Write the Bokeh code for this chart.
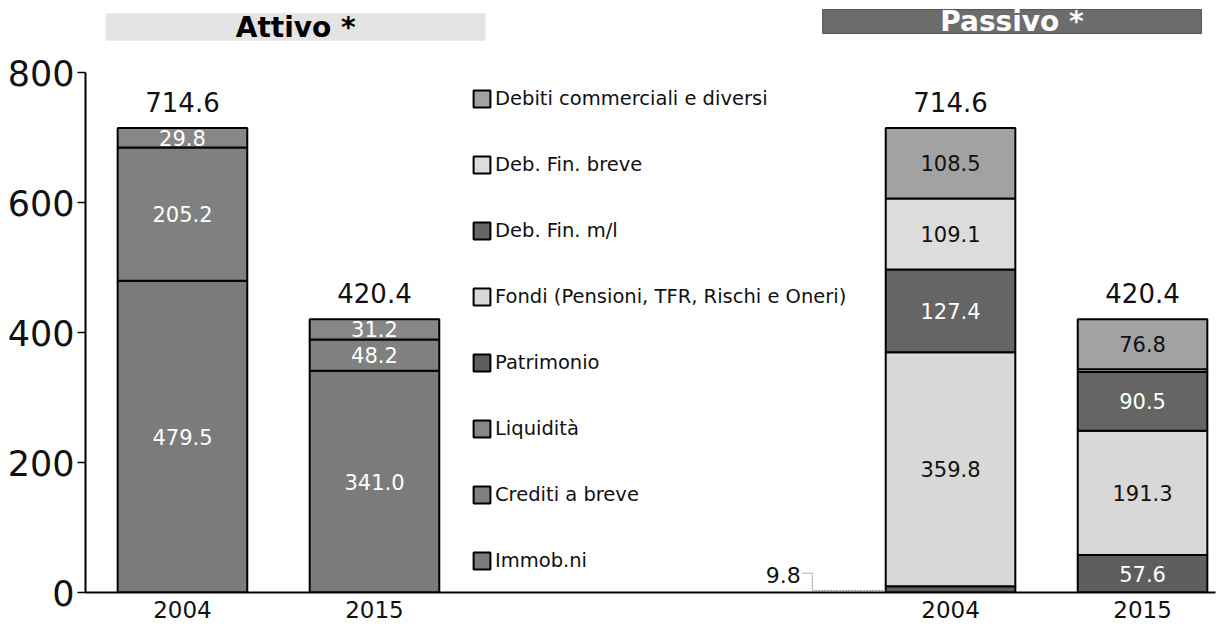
from bokeh.plotting import figure
from bokeh.models import (ColumnDataSource, Range1d, FixedTicker, Legend, LegendItem)
from bokeh.core.properties import value
from bokeh.embed import file_html
from bokeh.resources import INLINE

# ---------------- data ----------------
years = ["2004", "2015"]
attivo_series = ["Immob.ni", "Crediti a breve", "Liquidità"]
immob = [479.5, 341.0]
crediti = [205.2, 48.2]
liquidita = [29.8, 31.2]
attivo_totals = [714.6, 420.4]

passivo_series = ["Patrimonio", "Fondi (Pensioni, TFR, Rischi e Oneri)",
                  "Deb. Fin. m/l", "Deb. Fin. breve", "Debiti commerciali e diversi"]
patrimonio = [9.8, 57.6]
fondi = [359.8, 191.3]
deb_fin_ml = [127.4, 90.5]
deb_fin_breve = [109.1, 4.2]
debiti_comm = [108.5, 76.8]
passivo_totals = [714.6, 420.4]

# ---------------- styles ----------------
FONT = "DejaVu Sans"
attivo_colors = ["#7b7b7b", "#808080", "#878787"]
attivo_text = ["white", "white", "white"]
passivo_colors = ["#5e5e5e", "#d8d8d8", "#656565", "#dcdcdc", "#a2a2a2"]
passivo_text = ["white", "#111111", "white", "#111111", "#111111"]

x_att = [0, 1]
x_pas = [4, 5]
BW = 0.675

p = figure(width=1226, height=627, output_backend="svg", toolbar_location=None,
           x_range=Range1d(-0.505, 5.38), y_range=Range1d(0, 898.5),
           min_border_left=85, min_border_right=11, min_border_top=8, min_border_bottom=35)
p.xgrid.visible = False
p.ygrid.visible = False
p.outline_line_color = None
p.background_fill_color = "white"

# stacked bars
def draw_stack(xs, names, data_lists, colors, text_colors, hide):
    src = ColumnDataSource(dict(x=xs, **{n: d for n, d in zip(names, data_lists)}))
    rends = p.vbar_stack(names, x="x", width=BW, source=src, color=colors,
                         line_color="black", line_width=2)
    lx, ly, lt, lc = [], [], [], []
    bottoms = [0.0] * len(xs)
    for n, d, tc in zip(names, data_lists, text_colors):
        for i, v in enumerate(d):
            if (n, i) not in hide:
                lx.append(xs[i]); ly.append(bottoms[i] + v / 2)
                lt.append(f"{v:.1f}"); lc.append(tc)
            bottoms[i] += v
    p.text(x=lx, y=ly, text=lt, text_color=lc, text_align="center",
           text_baseline="middle", text_font=value(FONT), text_font_size="21px")
    return rends

att_r = draw_stack(x_att, attivo_series, [immob, crediti, liquidita],
                   attivo_colors, attivo_text, set())
pas_r = draw_stack(x_pas, passivo_series,
                   [patrimonio, fondi, deb_fin_ml, deb_fin_breve, debiti_comm],
                   passivo_colors, passivo_text,
                   {("Patrimonio", 0), ("Deb. Fin. breve", 1)})

# totals
p.text(x=x_att + x_pas, y=attivo_totals + passivo_totals,
       text=[f"{v:.1f}" for v in attivo_totals + passivo_totals],
       text_align="center", text_baseline="bottom", y_offset=-16,
       text_font=value(FONT), text_font_size="26px", text_color="#111111")

# outside label for small Patrimonio 2004 with leader line
p.text(x=[3.22], y=[patrimonio[0] + 17], text=[f"{patrimonio[0]:.1f}"],
       text_align="right", text_baseline="middle",
       text_font=value(FONT), text_font_size="22px", text_color="#111111")
p.line(x=[3.23, 3.28, 3.28, x_pas[0] - BW / 2], y=[patrimonio[0] + 20, patrimonio[0] + 20,
       patrimonio[0] / 2 - 2, patrimonio[0] / 2 - 2],
       line_color="#888888", line_width=1, line_dash="2 1")

# section header boxes
p.quad(left=[-0.40], right=[1.578], bottom=[849], top=[891],
       fill_color="#e4e4e4", line_color=None)
p.text(x=[0.59], y=[870], text=["Attivo *"], text_align="center", text_baseline="middle",
       text_font=value(FONT), text_font_style="bold", text_font_size="28px",
       text_color="black")
p.quad(left=[3.334], right=[5.307], bottom=[860], top=[897],
       fill_color="#6c6c6c", line_color="#555555", line_width=1)
p.text(x=[4.32], y=[878], text=["Passivo *"], text_align="center", text_baseline="middle",
       text_font=value(FONT), text_font_style="bold", text_font_size="28px",
       text_color="white")

# legend
all_names = attivo_series + passivo_series
all_rends = att_r + pas_r
items = [LegendItem(label=n, renderers=[r]) for n, r in zip(all_names, all_rends)]
items = items[::-1]
legend = Legend(items=items, location=(386, 20), orientation="vertical",
                glyph_width=21, glyph_height=21, label_height=21, spacing=43,
                padding=0, margin=0, label_standoff=3,
                label_text_font=FONT, label_text_font_size="19.5px",
                label_text_color="#111111",
                border_line_color=None, background_fill_alpha=0)
p.add_layout(legend, "center")

# axes
p.yaxis.ticker = FixedTicker(ticks=[0, 200, 400, 600, 800])
p.yaxis.bounds = (0, 800)
p.yaxis.major_label_text_font = FONT
p.yaxis.major_label_text_font_size = "35px"
p.yaxis.major_label_text_color = "#111111"
p.yaxis.axis_line_width = 2
p.yaxis.major_tick_in = 0
p.yaxis.major_tick_out = 8
p.yaxis.major_tick_line_width = 1.5
p.yaxis.minor_tick_line_color = None
p.yaxis.major_label_standoff = 3

p.xaxis.ticker = FixedTicker(ticks=x_att + x_pas)
p.xaxis.major_label_overrides = {x_att[0]: years[0], x_att[1]: years[1],
                                 x_pas[0]: years[0], x_pas[1]: years[1]}
p.xaxis.major_label_text_font = FONT
p.xaxis.major_label_text_font_size = "23px"
p.xaxis.major_label_text_color = "#111111"
p.xaxis.axis_line_width = 2
p.xaxis.major_tick_in = 0
p.xaxis.major_tick_out = 0
p.xaxis.minor_tick_line_color = None
p.xaxis.major_label_standoff = 8

open("out.html", "w").write(file_html(p, INLINE))
